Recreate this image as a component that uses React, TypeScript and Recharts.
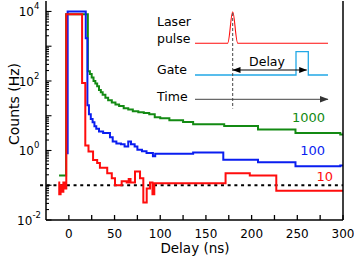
import React from 'react';
import { LineChart, Line, XAxis, YAxis, ReferenceLine } from 'recharts';

const FONT = '"DejaVu Sans", "Liberation Sans", Arial, sans-serif';

// Delay (ns) / counts (Hz) for each gate width series
const greenT = [-10.7, -3, 20.8, 23, 25, 27, 29, 31, 33, 35, 37, 40, 43, 47, 51, 55, 60, 65, 70, 76, 82, 88, 94, 100, 110, 125, 136, 170, 207, 248, 297, 300];
const greenV = [0.19, 8300, 190, 160, 125, 100, 85, 70, 55, 47, 40, 33, 28, 24, 21, 19, 16.5, 15, 13.5, 12.5, 12, 11, 9, 8.4, 7.4, 6.6, 5.7, 5.1, 4.0, 3.2, 2.9, 2.9];

const blueT = [-2, -1.3, 18.5, 20.3, 22, 24, 26, 28, 30, 33, 37.5, 45, 48, 52, 57, 61, 65, 68, 72, 75, 80, 85, 92, 94.5, 136, 169, 207, 248, 297, 300];
const blueV = [0.83, 10000, 1700, 20, 11, 8, 6.5, 5, 4.2, 3.5, 3.2, 2.4, 1.8, 1.6, 1.5, 1.3, 1.8, 1.5, 1.3, 1.05, 0.95, 0.85, 0.68, 0.8, 0.88, 0.54, 0.46, 0.35, 0.37, 0.37];

const redT = [-11.5, -10.5, -9, -7.5, -6, -4.5, -2.8, 14.5, 18, 21.5, 26.5, 31, 34, 42, 47, 50.5, 57.8, 63.3, 65.5, 67.5, 72.4, 77.9, 81.5, 85.2, 88.8, 91.5, 93.5, 171.5, 198, 227, 300];
const redV = [0.12, 0.055, 0.1, 0.065, 0.12, 0.08, 8300, 87, 1.4, 0.93, 0.53, 0.44, 0.32, 0.22, 0.16, 0.1, 0.13, 0.12, 0.15, 0.12, 0.25, 0.16, 0.032, 0.08, 0.12, 0.055, 0.115, 0.22, 0.19, 0.069, 0.069];

const backgroundLevel = 0.1;

const xTicks = [0, 25, 50, 75, 100, 125, 150, 175, 200, 225, 250, 275, 300];
const xLabelStep = 50;
const yDecades = [0.01, 0.1, 1, 10, 100, 1000, 10000];
const yLabelExps = [-2, 0, 2, 4];
const yMinorMultipliers = [2, 3, 4, 5, 6, 7, 8, 9];

const seriesNames = ['1000', '100', '10'];

const zip = (t: number[], v: number[]) => t.map((x, i) => ({ t: x, v: v[i] }));
const greenData = zip(greenT, greenV);
const blueData = zip(blueT, blueV);
const redData = zip(redT, redV);

const yTicks: number[] = [];
yDecades.forEach((d) => {
  yTicks.push(d);
  yMinorMultipliers.forEach((m) => {
    const v = d * m;
    if (v < 20000) yTicks.push(v);
  });
});

const GREEN = '#138a13';
const BLUE = '#0a1ef0';
const RED = '#ff0d0d';
const CYAN = '#22a8e6';

const XTickBottom = (props: any) => {
  const { x, y, payload } = props;
  const v = payload.value;
  return (
    <g>
      <line x1={x} x2={x} y1={y} y2={y - 5} stroke="#000" strokeWidth={1.3} />
      {v % xLabelStep === 0 && (
        <text x={x} y={y + 17.5} textAnchor="middle" fontSize={12} fontFamily={FONT} fill="#000">
          {v}
        </text>
      )}
    </g>
  );
};

const XTickTop = (props: any) => {
  const { x, y } = props;
  return <line x1={x} x2={x} y1={y} y2={y + 5} stroke="#000" strokeWidth={1.3} />;
};

const YTick = (props: any) => {
  const { x, y, payload } = props;
  const v = payload.value;
  const lg = Math.log10(v);
  const exp = Math.round(lg);
  const major = Math.abs(lg - exp) < 1e-6;
  const labeled = major && yLabelExps.includes(exp);
  return (
    <g>
      <line x1={x} x2={x + (major ? 5.5 : 3)} y1={y} y2={y} stroke="#000" strokeWidth={1.1} />
      {labeled && (
        <text x={29} y={y + 5} textAnchor="middle" fontSize={12} fontFamily={FONT} fill="#000">
          <tspan>10</tspan>
          <tspan dy={-7} fontSize={8.5}>{String(exp)}</tspan>
        </text>
      )}
    </g>
  );
};

const Inset = () => (
  <svg
    width={354}
    height={259}
    style={{ position: 'absolute', left: 0, top: 0, pointerEvents: 'none' }}
    fontFamily={FONT}
  >
    <defs>
      <marker id="ah" markerWidth="8" markerHeight="6" refX="7.5" refY="3" orient="auto" markerUnits="userSpaceOnUse">
        <path d="M0,0 L8,3 L0,6 z" fill="#000" />
      </marker>
      <marker id="ahs" markerWidth="8" markerHeight="6" refX="7.5" refY="3" orient="auto-start-reverse" markerUnits="userSpaceOnUse">
        <path d="M0,0 L8,3 L0,6 z" fill="#000" />
      </marker>
      <marker id="ahg" markerWidth="9" markerHeight="7" refX="8.5" refY="3.5" orient="auto" markerUnits="userSpaceOnUse">
        <path d="M0,0 L9,3.5 L0,7 z" fill="#333" />
      </marker>
    </defs>
    <text x={157} y={26} fontSize={12.5} fill="#000">Laser</text>
    <text x={157} y={42.5} fontSize={12.5} fill="#000">pulse</text>
    <text x={157} y={74} fontSize={12.5} fill="#000">Gate</text>
    <text x={157} y={100.5} fontSize={12.5} fill="#000">Time</text>
    <path
      d="M195,43.3 H227.5 C229.8,43.3 230.8,11.7 232.7,11.7 C234.6,11.7 235.6,43.3 237.9,43.3 H328"
      fill="none"
      stroke={RED}
      strokeWidth={1.1}
    />
    <path d="M195,75 H296 V51.7 H308.3 V75 H328" fill="none" stroke={CYAN} strokeWidth={1.3} />
    <line x1={195} x2={328} y1={99.3} y2={99.3} stroke="#444" strokeWidth={1} markerEnd="url(#ahg)" />
    <line x1={232.7} x2={232.7} y1={13} y2={108.5} stroke="#444" strokeWidth={1} strokeDasharray="3 2" />
    <line x1={233} x2={306.7} y1={70} y2={70} stroke="#000" strokeWidth={1.2} markerStart="url(#ahs)" markerEnd="url(#ah)" />
    <text x={267} y={66} fontSize={12.5} textAnchor="middle" fill="#000">Delay</text>
    <text x={325} y={122} fontSize={13} textAnchor="end" fill={GREEN}>{seriesNames[0]}</text>
    <text x={325} y={155} fontSize={13} textAnchor="end" fill={BLUE}>{seriesNames[1]}</text>
    <text x={333} y={181} fontSize={13} textAnchor="end" fill={RED}>{seriesNames[2]}</text>
    <text x={195} y={253} fontSize={13.5} textAnchor="middle" fill="#000">Delay (ns)</text>
    <text x={0} y={0} fontSize={14} textAnchor="middle" fill="#000" transform="translate(19,104) rotate(-90)">
      Counts (Hz)
    </text>
  </svg>
);

export default function App() {
  return (
    <div style={{ position: 'absolute', left: 0, top: 0, width: 354, height: 259, background: '#fff' }}>
      <LineChart width={354} height={259} margin={{ top: 1, right: 0, bottom: 0, left: 0 }}>
        <XAxis
          xAxisId="b"
          dataKey="t"
          type="number"
          domain={[-25, 300]}
          allowDataOverflow
          ticks={xTicks}
          interval={0}
          tickSize={0}
          tickMargin={0}
          tickLine={false}
          tick={<XTickBottom />}
          height={39}
          axisLine={{ stroke: '#000', strokeWidth: 1.5 }}
        />
        <XAxis
          xAxisId="top"
          orientation="top"
          dataKey="t"
          type="number"
          domain={[-25, 300]}
          allowDataOverflow
          ticks={xTicks}
          interval={0}
          tickSize={0}
          tickMargin={0}
          tickLine={false}
          tick={<XTickTop />}
          height={0}
          axisLine={{ stroke: '#000', strokeWidth: 1.5 }}
        />
        <YAxis
          yAxisId="l"
          scale="log"
          type="number"
          domain={[0.01, 20000]}
          allowDataOverflow
          ticks={yTicks}
          interval={0}
          tickSize={0}
          tickMargin={0}
          tickLine={false}
          tick={<YTick />}
          width={46}
          axisLine={{ stroke: '#000', strokeWidth: 1.5 }}
        />
        <YAxis
          yAxisId="r"
          orientation="right"
          type="number"
          domain={[0, 1]}
          tick={false}
          tickLine={false}
          width={11}
          axisLine={{ stroke: '#000', strokeWidth: 1.5 }}
        />
        <ReferenceLine
          xAxisId="b"
          yAxisId="l"
          segment={[{ x: -31.5, y: backgroundLevel }, { x: 300, y: backgroundLevel }]}
          ifOverflow="visible"
          stroke="#000"
          strokeWidth={2}
          strokeDasharray="3 3.7"
        />
        <Line xAxisId="b" yAxisId="l" data={greenData} dataKey="v" type="stepAfter" stroke={GREEN} strokeWidth={2} dot={false} isAnimationActive={false} />
        <Line xAxisId="b" yAxisId="l" data={blueData} dataKey="v" type="stepAfter" stroke={BLUE} strokeWidth={2} dot={false} isAnimationActive={false} />
        <Line xAxisId="b" yAxisId="l" data={redData} dataKey="v" type="stepAfter" stroke={RED} strokeWidth={2} dot={false} isAnimationActive={false} />
      </LineChart>
      <Inset />
    </div>
  );
}
